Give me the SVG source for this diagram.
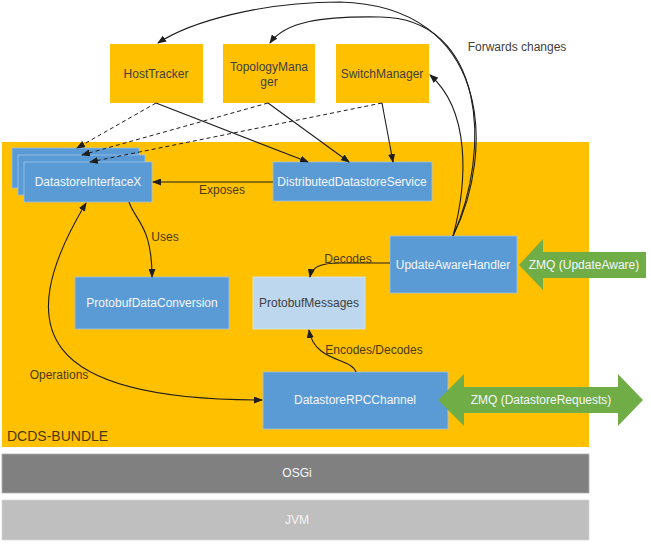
<svg xmlns="http://www.w3.org/2000/svg" width="651" height="556" viewBox="0 0 651 556">
<style>
text{font-family:"Liberation Sans",Arial,sans-serif;font-size:12px;text-anchor:middle}
.ora{fill:#FFC000}
.blu{fill:#5B9BD5;stroke:#9DC3E6;stroke-width:0.8}
.lbl{fill:#4A3A14}
.wt{fill:#F4F7FC}
.dk{fill:#404040}
.ln{fill:none;stroke:#1E1E1E;stroke-width:1.1;marker-end:url(#ah)}
.ds{fill:none;stroke:#1E1E1E;stroke-width:1;stroke-dasharray:4 3;marker-end:url(#ah)}
.grn{fill:#70AD47}
</style>
<defs>
<marker id="ah" markerUnits="userSpaceOnUse" markerWidth="9" markerHeight="7" refX="8" refY="3.5" orient="auto-start-reverse" viewBox="0 0 9 7">
<path d="M0,0 L9,3.5 L0,7 z" fill="#1E1E1E"/>
</marker>
</defs>
<rect width="651" height="556" fill="#ffffff"/>

<g id="dcds-bundle">
<rect x="2" y="142" width="587" height="305" class="ora"/>
<text x="7" y="441" style="text-anchor:start;font-size:14px" class="lbl">DCDS-BUNDLE</text>
</g>
<g id="osgi">
<rect x="2" y="454" width="587" height="39" fill="#808080" stroke="#B0B0B0" stroke-width="0.8"/>
<text x="297" y="477" class="wt">OSGi</text>
</g>
<g id="jvm">
<rect x="2" y="500" width="587" height="40" fill="#BFBFBF" stroke="#D8D8D8" stroke-width="0.8"/>
<text x="297" y="524" fill="#F4F4F4">JVM</text>
</g>

<g id="hosttracker">
<rect x="110" y="44" width="93" height="59" class="ora"/>
<text x="156" y="78" class="dk">HostTracker</text>
</g>
<g id="topologymanager">
<rect x="223" y="44" width="92" height="59" class="ora"/>
<text x="269" y="71" class="dk">TopologyMana</text>
<text x="269" y="86" class="dk">ger</text>
</g>
<g id="switchmanager">
<rect x="336" y="44" width="93" height="59" class="ora"/>
<text x="382" y="78" class="dk">SwitchManager</text>
</g>

<g id="datastoreinterfacex">
<rect x="12" y="148" width="127" height="40" class="blu"/>
<rect x="18" y="155" width="127" height="40" class="blu"/>
<rect x="24" y="162" width="128" height="40" class="blu"/>
<text x="88" y="186" class="wt">DatastoreInterfaceX</text>
</g>
<g id="distributeddatastoreservice">
<rect x="273" y="162" width="159" height="39" class="blu"/>
<text x="352" y="186" class="wt">DistributedDatastoreService</text>
</g>
<g id="protobufdataconversion">
<rect x="75" y="277" width="154" height="52" class="blu"/>
<text x="152" y="307" class="wt">ProtobufDataConversion</text>
</g>
<g id="protobufmessages">
<rect x="253" y="277" width="112" height="52" fill="#BDD7EE" stroke="#D6E6F5" stroke-width="0.8"/>
<text x="309" y="307" class="dk">ProtobufMessages</text>
</g>
<g id="updateawarehandler">
<rect x="390" y="236" width="127" height="57" class="blu"/>
<text x="453" y="269" class="wt">UpdateAwareHandler</text>
</g>
<g id="datastorerpcchannel">
<rect x="263" y="372" width="185" height="57" class="blu"/>
<text x="355" y="404" class="wt">DatastoreRPCChannel</text>
</g>

<g id="zmq-updateaware">
<polygon points="519,265 543,239 543,252 646,252 646,278 543,278 543,290" class="grn"/>
<text x="584" y="269" class="wt">ZMQ (UpdateAware)</text>
</g>
<g id="zmq-datastorerequests">
<polygon points="438,400 464,374 464,387 618,387 618,374 643,400 618,426 618,413 464,413 464,426" class="grn"/>
<text x="541" y="404" class="wt">ZMQ (DatastoreRequests)</text>
</g>

<g id="connectors">
<path class="ds" d="M156,103 L77,148"/>
<path class="ds" d="M268,103 L82,155"/>
<path class="ds" d="M382,103 L90,162"/>
<path class="ln" d="M156,103 L308,162"/>
<path class="ln" d="M268,103 L349,162"/>
<path class="ln" d="M382,103 L393,162"/>
<path class="ln" d="M273,182 L153,182"/>
<path class="ln" d="M129,202 C136,222 152,226 152,277"/>
<path class="ln" d="M390,263 L340,263 C325,263 312,265 310,277"/>
<path class="ln" d="M356,372 C352,358 314,362 309,330"/>
<path class="ln" style="marker-start:url(#ah)" d="M86,203 C10,330 40,400 262,400"/>
<path class="ln" d="M453,236 C468,180 470,110 430,75"/>
<path class="ln" d="M453,236 C492,150 485,18 380,17 C320,16 285,22 270,43"/>
<path class="ln" d="M453,236 C496,150 490,6 340,2 C260,2 190,22 158,43"/>
</g>

<g id="labels">
<text x="222" y="194" class="lbl">Exposes</text>
<text x="165" y="241" class="lbl">Uses</text>
<text x="348" y="263" class="lbl">Decodes</text>
<text x="374" y="354" class="lbl">Encodes/Decodes</text>
<text x="59" y="379" class="lbl">Operations</text>
<text x="517" y="51" class="dk">Forwards changes</text>
</g>
</svg>
